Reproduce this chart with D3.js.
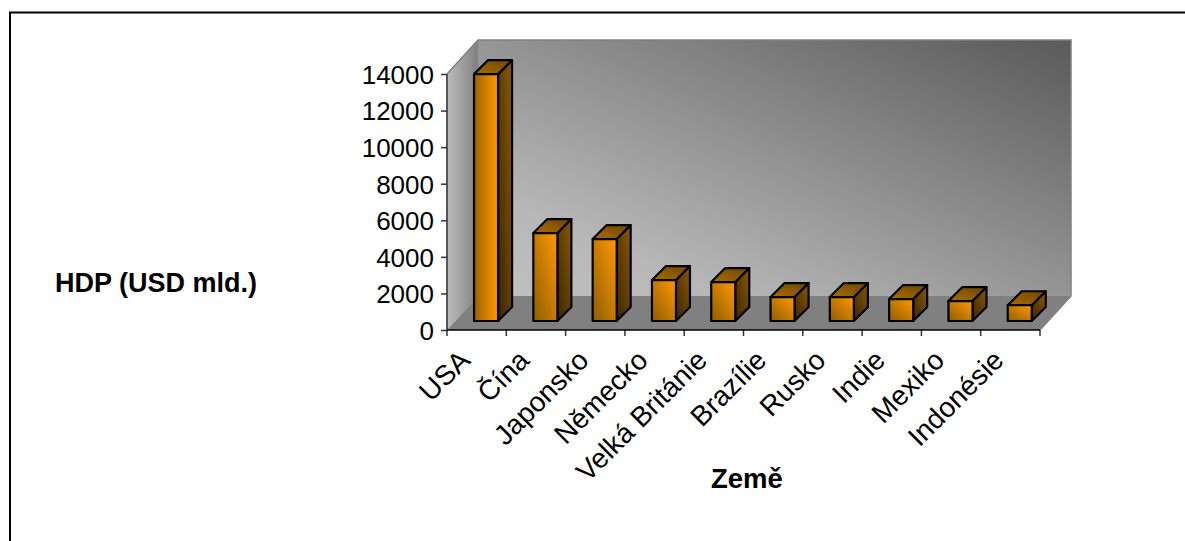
<!DOCTYPE html>
<html><head><meta charset="utf-8">
<script src="https://cdn.jsdelivr.net/npm/d3@7"></script>
<style>html,body{margin:0;padding:0;background:#fff}svg{display:block}text{font-family:"Liberation Sans",Arial,sans-serif;fill:#000}</style>
</head><body><svg id="c" width="1185" height="541"></svg>
<script>
const categories=["USA","Čína","Japonsko","Německo","Velká Británie","Brazílie","Rusko","Indie","Mexiko","Indonésie"];
const values=[13500,4810,4480,2240,2130,1310,1310,1200,1090,860];
const yTicks=[0,2000,4000,6000,8000,10000,12000,14000];
const yTitle="HDP (USD mld.)", xTitle="Země";

const svg=d3.select("#c");
const W=447,E=1040,B=330,T=74;
const DX=31,DY=34;          // depth of the plot box
const bdx=9.4,bdy=9,bw=14,bh=14; // bar's depth placement
const x=d3.scaleBand().domain(categories).range([W,E]).paddingInner(0.595).paddingOuter(0.2975);
const y=d3.scaleLinear().domain([0,14000]).range([B,T]);

const defs=svg.append("defs");
function grad(id,x1,y1,x2,y2,stops){
  const g=defs.append("linearGradient").attr("id",id).attr("x1",x1).attr("y1",y1).attr("x2",x2).attr("y2",y2);
  stops.forEach(([o,c])=>g.append("stop").attr("offset",o).attr("stop-color",c));
}
grad("wall",0,1,1,0,[[0,"#c0c0c0"],[0.2,"#b8b8b8"],[1,"#5a5a5a"]]);
grad("lwall",0,0,1,0,[[0,"#bdbdbd"],[1,"#7f7f7f"]]);
grad("front",0,1,1,0,[[0,"#8f5c00"],[1,"#ff9900"]]);
grad("frontTall",0,0,1,0,[[0,"#9a6200"],[1,"#ff9900"]]);
grad("side",0,1,1,0,[[0,"#3a2500"],[1,"#8a5a00"]]);
grad("topb",0,1,1,0,[[0,"#a86c00"],[1,"#6e4700"]]);

const pts=a=>a.map(p=>p.join(",")).join(" ");
// border
svg.append("path").attr("d","M10,541V12.5H1185").attr("fill","none").attr("stroke","#000").attr("stroke-width",2);

// walls + floor
const yTop=T-DY;
svg.append("polygon").attr("points",pts([[W+DX,yTop],[E+DX,yTop],[E+DX,B-DY],[W+DX,B-DY]])).attr("fill","url(#wall)");
svg.append("polygon").attr("points",pts([[W,T],[W+DX,yTop],[W+DX,B-DY],[W,B]])).attr("fill","url(#lwall)");
svg.append("polygon").attr("points",pts([[W,B],[W+DX,B-DY],[E+DX,B-DY],[E,B]])).attr("fill","#808080");
svg.append("path").attr("d",`M${W},${T}L${W+DX},${yTop}H${E+DX}V${B-DY}L${E},${B}`).attr("fill","none").attr("stroke","#808080").attr("stroke-width",1.5);
svg.append("line").attr("x1",W+DX).attr("x2",W+DX).attr("y1",yTop).attr("y2",B-DY).attr("stroke","#8c8c8c").attr("stroke-width",1);

// bars
svg.append("g").selectAll("g").data(categories.map((c,i)=>({c,v:values[i]}))).join("g")
 .each(function(d){
   const g=d3.select(this);
   const l=x(d.c)+bdx, r=l+x.bandwidth();
   const bot=y(0)-bdy, top=y(d.v)-bdy;
   const st={stroke:"#000","stroke-width":2.2,"stroke-linejoin":"round"};
   const add=(p,f)=>{const e=g.append("polygon").attr("points",pts(p)).attr("fill",f);for(const k in st)e.attr(k,st[k]);};
   add([[r,top],[r+bw,top-bh],[r+bw,bot-bh],[r,bot]],"url(#side)");
   add([[l,top],[l+bw,top-bh],[r+bw,top-bh],[r,top]],"url(#topb)");
   add([[l,top],[r,top],[r,bot],[l,bot]],(d.v>10000)?"url(#frontTall)":"url(#front)");
 });

// axes
const yAxis=d3.axisLeft(y).tickValues(yTicks).tickSize(6).tickPadding(7).tickFormat(d3.format("d"));
const gy=svg.append("g").attr("transform",`translate(${W},0)`).call(yAxis);
gy.selectAll("text").attr("font-size",26).attr("dy","0.36em");
gy.selectAll("line").attr("stroke","#333").attr("stroke-width",1.5);
gy.select("path").attr("stroke","#555").attr("stroke-width",2).attr("d",`M0,${T}V${B}`);

const xTickPos=d3.range(categories.length+1).map(i=>W+i*x.step());
svg.append("g").selectAll("line").data(xTickPos).join("line").attr("x1",d=>d).attr("x2",d=>d).attr("y1",B).attr("y2",B+6).attr("stroke","#333").attr("stroke-width",1.5);
svg.append("line").attr("x1",W).attr("x2",E).attr("y1",B).attr("y2",B).attr("stroke","#000").attr("stroke-width",1.5);

svg.append("g").selectAll("text").data(categories).join("text")
 .attr("font-size",28).attr("text-anchor","end")
 .attr("transform",d=>`translate(${x(d)+x.bandwidth()/2-12},${B+25}) rotate(-45)`)
 .attr("dy","0.35em").text(d=>d);

svg.append("text").attr("x",55).attr("y",292).attr("font-size",27).attr("font-weight","bold").text(yTitle);
svg.append("text").attr("x",711).attr("y",488).attr("font-size",27.5).attr("font-weight","bold").text(xTitle);
</script></body></html>
